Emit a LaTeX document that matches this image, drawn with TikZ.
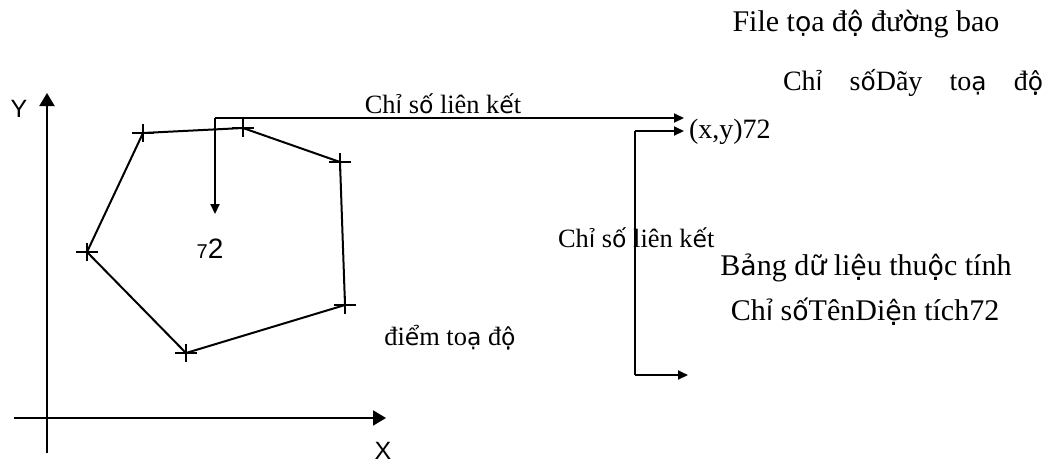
\documentclass[tikz,border=0pt]{standalone}
\usepackage{fontspec}
\setmainfont{Liberation Serif}
\setsansfont{Liberation Sans}
\newfontfamily\vnsans{DejaVu Sans}
\newcommand\vs[1]{{\vnsans\fontsize{0.89\dimexpr\csname f@size\endcsname pt\relax}{15}\selectfont #1}}
\usetikzlibrary{arrows.meta}
\begin{document}
\begin{tikzpicture}[x=0.5pt,y=-0.5pt,
  line width=1pt,
  txt/.style={inner sep=0pt,font=\fontsize{14}{16}\selectfont},
  txtbig/.style={inner sep=0pt,font=\fontsize{15}{17}\selectfont},
  txtsmall/.style={inner sep=0pt,font=\fontsize{13.2}{15}\selectfont},
  axlbl/.style={inner sep=0pt,font=\sffamily\fontsize{12.5}{15}\selectfont},
  axis/.style={-{Triangle[length=6.5pt,width=7.5pt]}},
  link/.style={-{Triangle[length=5pt,width=4.5pt]}},
  edge/.style={line width=1pt},
  plusmark/.pic={\draw[line width=1.1pt] (-11,0)--(11,0) (0,-9)--(0,9);}]
\useasboundingbox (0,0) rectangle (1051,463);
% axes
\coordinate (yb) at (47,453);
\coordinate (yt) at (47,93);
\coordinate (xl) at (14,418);
\coordinate (xr) at (386,418);
\draw[axis] (yb) -- (yt);
\draw[axis] (xl) -- (xr);
\node[axlbl,anchor=base] (ylab) at (19,117) {Y};
\node[axlbl,anchor=base] (xlab) at (383,459) {X};
% polygon
\coordinate (p1) at (143,133);
\coordinate (p2) at (243,128);
\coordinate (p3) at (340,162);
\coordinate (p4) at (345,305);
\coordinate (p5) at (186,353);
\coordinate (p6) at (87,252);
\draw[edge] (p1) -- (p2) -- (p3) -- (p4) -- (p5) -- (p6) -- cycle;
\foreach \p in {p1,p2,p3,p4,p5,p6} \pic at (\p) {plusmark};
% link arrows
\coordinate (ls) at (215,118);
\coordinate (ld) at (215,214);
\coordinate (le) at (684,118);
\draw[link] (ls) -- (ld);
\draw[link] (ls) -- (le);
\node[txtsmall,anchor=base] (lbl1) at (443,113) {Ch\vs{ỉ} s\vs{ố} liên k\vs{ế}t};
\node[inner sep=0pt,anchor=base,font=\sffamily] (id) at (210,258) {{\fontsize{10}{12}\selectfont 7}{\fontsize{14}{16}\selectfont 2}};
% file
\node[txtbig,anchor=base] (file) at (866,31) {File t\vs{ọ}a đ\vs{ộ} đư\vs{ờ}ng bao};
\node[txt,anchor=base west] (hdr) at (782,90) {\makebox[130pt][s]{Ch\vs{ỉ}\hfill s\vs{ố}Dãy\hfill to\vs{ạ}\hfill đ\vs{ộ}}};
\node[txt,anchor=base west] (xy) at (688,138) {(x,y)72};
% second link
\coordinate (v1) at (635,131);
\coordinate (v2) at (635,375);
\coordinate (a1) at (684,131);
\coordinate (a2) at (688,375);
\draw (v2) -- (v1);
\draw[link] (v1) -- (a1);
\draw[link] (v2) -- (a2);
\node[txtsmall,anchor=base west] (lbl2) at (557,247) {Ch\vs{ỉ} s\vs{ố} liên k\vs{ế}t};
\node[txtbig,anchor=base] (tbl) at (866,275) {B\vs{ả}ng d\vs{ữ} li\vs{ệ}u thu\vs{ộ}c tính};
\node[txtbig,anchor=base] (row) at (865,320) {Ch\vs{ỉ} s\vs{ố}TênDi\vs{ệ}n tích72};
\node[txtsmall,anchor=base] (pts) at (450,345) {đi\vs{ể}m to\vs{ạ} đ\vs{ộ}};
\end{tikzpicture}
\end{document}
